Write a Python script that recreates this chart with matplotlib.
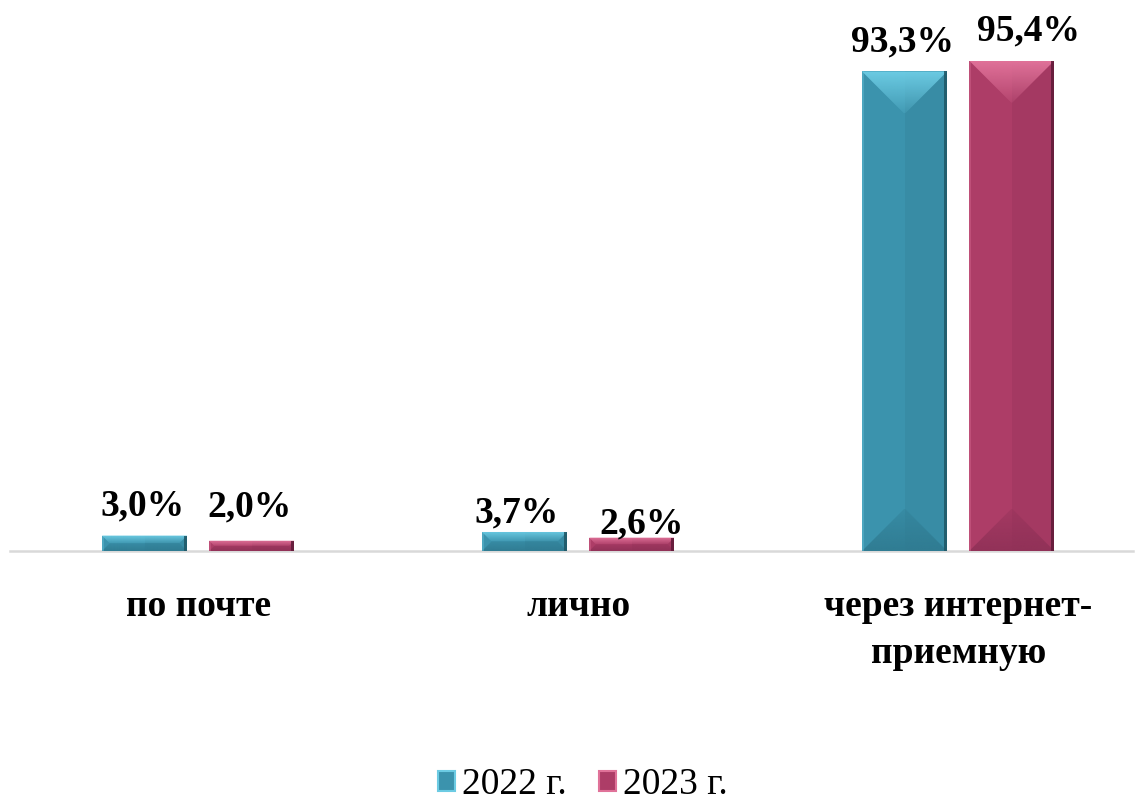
import matplotlib
matplotlib.use("Agg")
import matplotlib.pyplot as plt
from matplotlib.patches import Polygon, Rectangle, Patch
import matplotlib.colors as mcolors
import numpy as np

categories = ["по почте", "лично", "через интернет-\nприемную"]
series_names = ["2022 г.", "2023 г."]
values_2022 = [3.0, 3.7, 93.3]
values_2023 = [2.0, 2.6, 95.4]
labels_2022 = ["3,0%", "3,7%", "93,3%"]
labels_2023 = ["2,0%", "2,6%", "95,4%"]

# style
W, H, DPI = 11.36, 8.07, 100
colors = {
    "2022 г.": dict(main="#3B93AD", top="#6CCBE3", bot="#2F7A90", edge="#1F5665"),
    "2023 г.": dict(main="#AD3D67", top="#E07299", bot="#8F3157", edge="#5E1A37"),
}
# label placement in pixels: (dx, gap between bar top and text baseline)
lab_pos_2022 = [(-2, 20), (-8, 9), (-2, 20)]
lab_pos_2023 = [(-2, 24), (10, 4), (17, 20)]

plt.rcParams['font.family'] = ['Liberation Serif', 'DejaVu Serif']

fig = plt.figure(figsize=(W, H), dpi=DPI)
ax_left, ax_right = 10 / 1136, 1133 / 1136
ax_bottom, ax_top = (807 - 551) / 807, (807 - 37) / 807
ax = fig.add_axes([ax_left, ax_bottom, ax_right - ax_left, ax_top - ax_bottom])
XMIN, XMAX = -0.495, 2.46
ax.set_xlim(XMIN, XMAX)
ax.set_ylim(0, 100)
ax.axis("off")

x = np.arange(len(categories))
bw = 0.224
off = 0.141

ax_w_px = (ax_right - ax_left) * W * DPI
ax_h_px = (ax_top - ax_bottom) * H * DPI
px_x = (XMAX - XMIN) / ax_w_px
px_y = 100 / ax_h_px


def grad_poly(verts, color, a0, a1, y0, y1, z):
    """Fill polygon with vertical alpha gradient from a0 at y0 to a1 at y1."""
    poly = Polygon(verts, closed=True, fc="none", ec="none")
    ax.add_patch(poly)
    rgb = mcolors.to_rgb(color)
    n = 64
    img = np.zeros((n, 2, 4))
    img[..., :3] = rgb
    al = np.linspace(a0, a1, n)
    img[..., 3] = al[:, None]
    xs = [v[0] for v in verts]
    lo, hi = min(y0, y1), max(y0, y1)
    im = ax.imshow(img if y0 < y1 else img[::-1], extent=(min(xs), max(xs), lo, hi),
                   origin="lower", aspect="auto", zorder=z, interpolation="bilinear")
    im.set_clip_path(poly)


def bevel_bar(xc, val, c):
    x0, x1 = xc - bw / 2, xc + bw / 2
    ax.bar(xc, val, width=bw, color=c["main"], linewidth=0, zorder=2)
    h_px = val / px_y
    w_px = bw / px_x
    d = min(w_px / 2, h_px / 2, 42)
    dx, dy = d * px_x, d * px_y
    # right half slightly darker
    ax.add_patch(Rectangle((xc, 0), bw / 2, val, fc=c["edge"], ec="none", alpha=0.10, zorder=3))
    # top facet (lighter, fading downward)
    grad_poly([(x0, val), (x1, val), (x1 - dx, val - dy), (x0 + dx, val - dy)],
              c["top"], 1.0, 0.15, val, val - dy, 4)
    # bottom facet (darker)
    grad_poly([(x0, 0), (x1, 0), (x1 - dx, dy), (x0 + dx, dy)],
              c["bot"], 0.9, 0.3, 0, dy, 4)
    # dark right edge stripe, light left edge
    ax.add_patch(Rectangle((x1 - 3 * px_x, 0), 3 * px_x, val, fc=c["edge"], ec="none",
                           zorder=5, alpha=0.85))
    ax.add_patch(Rectangle((x0, 0), 2 * px_x, val, fc=c["top"], ec="none",
                           zorder=5, alpha=0.35))


for vals, labs, poss, name, sgn in [(values_2022, labels_2022, lab_pos_2022, series_names[0], -1),
                                    (values_2023, labels_2023, lab_pos_2023, series_names[1], 1)]:
    c = colors[name]
    for i, (v, lab, (ox, gap)) in enumerate(zip(vals, labs, poss)):
        xc = x[i] + sgn * off
        bevel_bar(xc, v, c)
        ax.annotate(lab, (xc, v), xytext=(ox * 72 / DPI, gap * 72 / DPI),
                    textcoords="offset points", ha="center", va="baseline",
                    fontsize=27, fontweight="bold", zorder=6, annotation_clip=False)

# baseline axis
ax.plot([XMIN, XMAX], [0, 0], color="#D9D9D9", lw=1.8, zorder=1, clip_on=False)

# category labels
for i, cat in enumerate(categories):
    ax.annotate(cat, (x[i], 0), xytext=(0, -38 * 72 / DPI), textcoords="offset points",
                ha="center", va="top", fontsize=27, fontweight="bold",
                linespacing=1.45, annotation_clip=False)

# legend
handles = [Patch(facecolor=colors[n]["main"], edgecolor=colors[n]["top"], linewidth=1.5) for n in series_names]
fig.legend(handles, series_names, loc="lower center", bbox_to_anchor=(0.513, -0.036), ncol=2,
           frameon=False, fontsize=27, handlelength=0.45, handleheight=0.45,
           handletextpad=0.2, columnspacing=0.85)

fig.savefig("out.png", dpi=DPI)
